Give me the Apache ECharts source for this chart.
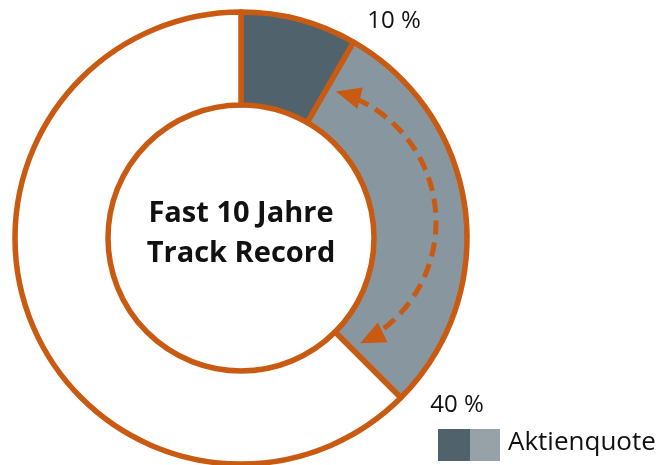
<!DOCTYPE html>
<html>
<head>
<meta charset="utf-8">
<script src="https://cdn.jsdelivr.net/npm/echarts@6/dist/echarts.min.js"></script>
<style>
  html, body { margin: 0; padding: 0; background: #fff; }
  #chart { width: 657px; height: 465px; }
</style>
</head>
<body>
<div id="chart"></div>
<script>
// Anteile im Ring (Uhrzeigersinn ab 12 Uhr)
const sliceNames = ['Aktien', 'Aktienquote Spanne', 'Rest']
const sliceValues = [8.3, 29.2, 62.5]
const sliceColors = ['#50636c', '#8896a0', '#ffffff']
const markLabels = ['10 %', '40 %']
const legendLabel = 'Aktienquote'
const centerText = 'Fast 10 Jahre\nTrack Record'

const orange = '#c85a12'
const cx = 241, cy = 238
const rIn = 133, rOut = 226

// Pfeil-Bogen: eigener Kreis im hellen Segment (Winkel in Grad, Canvas-Richtung)
const arc = { cx: 301, cy: 222, r: 135 }
const arcFrom = -75, arcTo = 64
const rad = d => d * Math.PI / 180

function arrowHead (deg, dir) {
  // Spitze liegt auf dem Bogen bei deg; dir: -1 gegen, 1 mit dem Uhrzeigersinn
  const a = rad(deg)
  const tip = [arc.cx + arc.r * Math.cos(a), arc.cy + arc.r * Math.sin(a)]
  const tx = -Math.sin(a) * dir, ty = Math.cos(a) * dir
  const nx = Math.cos(a), ny = Math.sin(a)
  const len = 25, half = 11
  const bx = tip[0] - tx * len, by = tip[1] - ty * len
  return {
    type: 'polygon',
    shape: { points: [tip, [bx + nx * half, by + ny * half], [bx - nx * half, by - ny * half]] },
    style: { fill: orange },
    z: 10
  }
}

const myChart = echarts.init(document.getElementById('chart'))
myChart.setOption({
  animation: false,
  series: [
    {
      type: 'pie',
      center: [cx, cy],
      radius: [rIn, rOut],
      startAngle: 90,
      clockwise: true,
      label: { show: false },
      labelLine: { show: false },
      emphasis: { disabled: true },
      itemStyle: { borderColor: orange, borderWidth: 5.5 },
      data: sliceNames.map((n, i) => ({
        name: n,
        value: sliceValues[i],
        itemStyle: { color: sliceColors[i] }
      }))
    }
  ],
  graphic: [
    {
      type: 'arc',
      shape: { cx: arc.cx, cy: arc.cy, r: arc.r, startAngle: rad(arcFrom + 9), endAngle: rad(arcTo - 9) },
      style: { stroke: orange, lineWidth: 5, lineDash: [14, 8], fill: null },
      z: 10
    },
    arrowHead(arcFrom, -1),
    arrowHead(arcTo, 1),
    {
      type: 'text',
      x: cx, y: 234,
      style: {
        text: centerText,
        font: 'bold 29px "Open Sans", sans-serif',
        fill: '#111',
        align: 'center',
        verticalAlign: 'middle',
        lineHeight: 40
      },
      z: 10
    },
    {
      type: 'text',
      x: 394, y: 21,
      style: { text: markLabels[0], font: '24px "Open Sans", sans-serif', fill: '#111', align: 'center', verticalAlign: 'middle' }
    },
    {
      type: 'text',
      x: 457, y: 405,
      style: { text: markLabels[1], font: '24px "Open Sans", sans-serif', fill: '#111', align: 'center', verticalAlign: 'middle' }
    },
    { type: 'rect', shape: { x: 438, y: 429, width: 32, height: 32 }, style: { fill: '#50636c' } },
    { type: 'rect', shape: { x: 470, y: 429, width: 30, height: 32 }, style: { fill: '#97a1a8' } },
    {
      type: 'text',
      x: 508, y: 443,
      style: { text: legendLabel, font: '26px "Open Sans", sans-serif', fill: '#111', align: 'left', verticalAlign: 'middle' }
    }
  ]
})
</script>
</body>
</html>
